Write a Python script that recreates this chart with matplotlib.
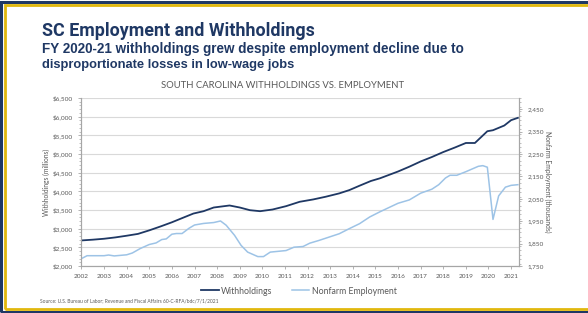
import matplotlib
matplotlib.use("Agg")
import matplotlib.pyplot as plt
from matplotlib.patches import Rectangle
from matplotlib.ticker import MultipleLocator, FixedLocator, FuncFormatter

# withholdings, millions of dollars (left axis)
wh_years = [2002.0, 2002.5, 2003.0, 2003.5, 2004.0, 2004.5, 2005.0, 2005.5, 2006.0, 2006.4,
            2006.95, 2007.4, 2007.85, 2008.55, 2009.0, 2009.45, 2009.9, 2010.45, 2011.05, 2011.65,
            2012.25, 2012.8, 2013.4, 2013.85, 2014.3, 2014.8, 2015.2, 2015.6, 2016.0, 2016.5,
            2017.0, 2017.5, 2018.0, 2018.5, 2019.0, 2019.4, 2019.95, 2020.2, 2020.7, 2021.0, 2021.3]
withholdings = [2685, 2705, 2730, 2766, 2811, 2860, 2955, 3060, 3171, 3270,
                3405, 3468, 3567, 3621, 3567, 3495, 3468, 3513, 3603, 3720,
                3783, 3855, 3945, 4034, 4151, 4277, 4349, 4440, 4531, 4660,
                4800, 4920, 5052, 5170, 5295, 5295, 5610, 5637, 5763, 5906, 5969]

# nonfarm employment, thousands (right axis)
emp_years = [2002.0, 2002.25, 2003.0, 2003.2, 2003.45, 2004.0, 2004.25, 2004.6, 2005.0, 2005.3,
             2005.55, 2005.75, 2006.0, 2006.2, 2006.45, 2006.75, 2007.0, 2007.4, 2007.85, 2008.15,
             2008.4, 2008.77, 2009.06, 2009.35, 2009.8, 2010.05, 2010.35, 2011.05, 2011.4, 2011.8,
             2012.1, 2012.5, 2012.95, 2013.4, 2013.85, 2014.3, 2014.75, 2015.2, 2016.0, 2016.5,
             2017.0, 2017.5, 2017.8, 2018.1, 2018.3, 2018.6, 2019.0, 2019.55, 2019.75, 2019.95,
             2020.2, 2020.45, 2020.75, 2021.0, 2021.3]
employment = [1783, 1796, 1796, 1799, 1795, 1800, 1808, 1828, 1846, 1853,
              1868, 1871, 1892, 1895, 1895, 1918, 1933, 1940, 1944, 1951,
              1932, 1887, 1842, 1812, 1792, 1792, 1812, 1819, 1834, 1837,
              1852, 1864, 1879, 1894, 1917, 1939, 1969, 1992, 2030, 2045,
              2075, 2093, 2113, 2143, 2155, 2155, 2171, 2195, 2198, 2191,
              1958, 2063, 2102, 2110, 2113]

year_ticks = list(range(2002, 2022))

navy = "#1F3864"
light = "#9DC3E6"
gray_txt = "#595959"

fig = plt.figure(figsize=(5.88, 3.13), dpi=100)
fig.patch.set_facecolor("white")

# border: navy outside, gold inside (right edge runs off the picture)
fig.add_artist(Rectangle((1.5 / 588, 1.5 / 313), 1.2, 1 - 3 / 313, transform=fig.transFigure,
                         fill=False, edgecolor="#1F3864", linewidth=2.2))
fig.add_artist(Rectangle((4.5 / 588, 4.5 / 313), 1.2, 1 - 9 / 313, transform=fig.transFigure,
                         fill=False, edgecolor="#E1B80D", linewidth=2.0))

# header texts; width in pixels is used to squeeze the font size to the reference
header = [
    ("SC Employment and Withholdings", 42.5, 35.7, 272, "Roboto", "bold", navy, "left"),
    ("FY 2020-21 withholdings grew despite employment decline due to", 42.5, 53.3, 424,
     "Liberation Sans", "bold", navy, "left"),
    ("disproportionate losses in low-wage jobs", 42.5, 68.3, 252, "Liberation Sans", "bold", navy, "left"),
]
renderer = fig.canvas.get_renderer()
for txt, x, y, w, fam, wt, col, ha in header:
    t = fig.text(x / 588, 1 - y / 313, txt, fontsize=10, family=fam, weight=wt, color=col,
                 ha=ha, va="baseline")
    width = t.get_window_extent(renderer).width
    t.set_fontsize(10 * w / width)

ct = fig.text(282.5 / 588, 1 - 85.7 / 313, "SOUTH CAROLINA WITHHOLDINGS VS. EMPLOYMENT",
              fontsize=6.3, color=gray_txt, family="Lato", ha="center", va="center")
ct.set_fontsize(6.3 * 242 / ct.get_window_extent(renderer).width)

ax = fig.add_axes([81 / 588, 1 - 266 / 313, 438 / 588, 168 / 313])
ax2 = ax.twinx()

ax.plot(wh_years, withholdings, color=navy, linewidth=1.3, label="Withholdings", zorder=3)
ax2.plot(emp_years, employment, color=light, linewidth=1.1, label="Nonfarm Employment", zorder=2)

ax.set_xlim(2001.98, 2021.35)
ax.set_ylim(2000, 6500)
ax2.set_ylim(1750, 2500)

ax.yaxis.set_major_locator(MultipleLocator(500))
ax.yaxis.set_minor_locator(MultipleLocator(100))
ax.yaxis.set_major_formatter(FuncFormatter(lambda v, p: "${:,.0f}".format(v)))
ax2.yaxis.set_major_locator(FixedLocator(range(1750, 2451, 100)))
ax2.yaxis.set_minor_locator(MultipleLocator(20))
ax2.yaxis.set_major_formatter(FuncFormatter(lambda v, p: "{:,.0f}".format(v)))
ax.set_xticks(year_ticks)
ax.set_xticklabels([str(y) for y in year_ticks])

ax.grid(axis="y", color="#D9D9D9", linewidth=0.8)
ax.set_axisbelow(True)

for a in (ax, ax2):
    for s in a.spines.values():
        s.set_color("#A6A6A6")
        s.set_linewidth(0.8)
    a.spines["top"].set_visible(False)
    a.tick_params(labelsize=4.6, labelcolor=gray_txt, colors="#A6A6A6", length=2.5, width=0.6)
    a.tick_params(which="minor", length=1.5, width=0.5, colors="#A6A6A6")
    for lab in a.get_xticklabels() + a.get_yticklabels():
        lab.set_family("Lato")

ax.set_ylabel("Withholdings (millions)", fontsize=4.9, color=gray_txt, family="Lato", labelpad=1.5)
ax2.set_ylabel("Nonfarm Employment (thousands)", fontsize=4.9, color=gray_txt,
               family="Lato", rotation=270, labelpad=5)

h1, l1 = ax.get_legend_handles_labels()
h2, l2 = ax2.get_legend_handles_labels()
fig.legend(h1 + h2, l1 + l2, loc="center", bbox_to_anchor=(299 / 588, 1 - 291 / 313), ncol=2,
           frameon=False, prop={"family": "Lato", "size": 6.3}, handlelength=2.0,
           handletextpad=0.3, columnspacing=2.2, labelcolor=gray_txt)

fig.text(40 / 588, 1 - 301 / 313,
         "Source: U.S. Bureau of Labor; Revenue and Fiscal Affairs 60-C-RFA/bdc/7/1/2021",
         fontsize=3.5, color=gray_txt, family="Lato", ha="left", va="center")

fig.savefig("out.png", dpi=100)
